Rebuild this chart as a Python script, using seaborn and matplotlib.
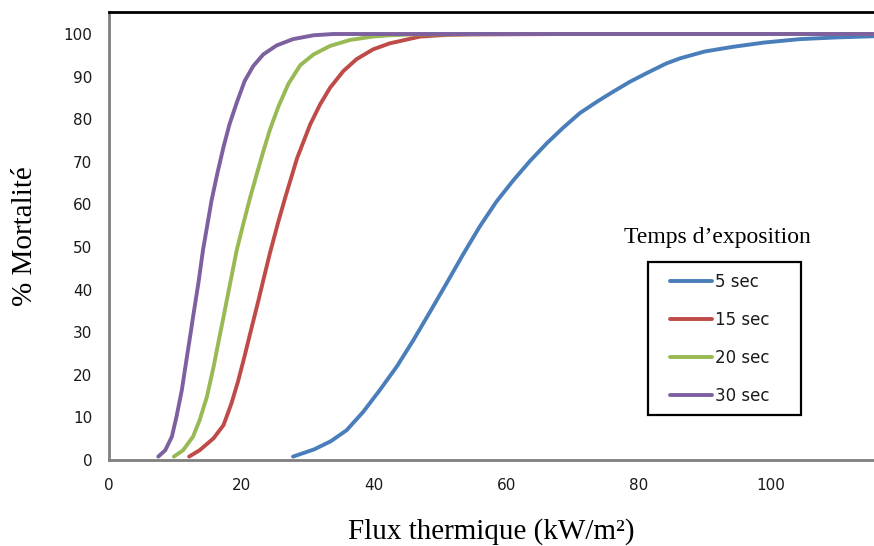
import numpy as np
import pandas as pd
import matplotlib
matplotlib.use("Agg")
import matplotlib.pyplot as plt
from matplotlib.patches import Rectangle
import seaborn as sns

# ---- data ----
labels = ["5 sec", "15 sec", "20 sec", "30 sec"]
colors = ["#4A7EBB", "#BE4B48", "#98B954", "#7D60A0"]

x_5 = [27.8, 31.0, 33.5, 35.9, 38.4, 40.9, 43.5, 46.0, 48.5, 51.0, 53.5, 56.0, 58.5, 61.1,
       63.6, 66.1, 68.6, 71.1, 73.7, 76.2, 78.7, 81.2, 84.2, 86.3, 90.0, 94.3, 99.0, 104.4, 110.0, 116.0]
y_5 = [0.8, 2.5, 4.4, 7.0, 11.3, 16.4, 22.0, 28.2, 34.8, 41.5, 48.3, 54.8, 60.6, 65.7,
       70.2, 74.3, 78.0, 81.4, 84.1, 86.5, 88.8, 90.8, 93.1, 94.3, 95.9, 97.0, 98.0, 98.8, 99.2, 99.5]

x_15 = [12.1, 13.7, 15.8, 17.3, 18.5, 19.5, 20.5, 21.5, 22.5, 23.4, 24.3, 25.5, 26.6, 28.4,
        30.4, 31.9, 33.4, 35.4, 37.4, 39.9, 42.4, 47.0, 51.0, 55.0, 70.0, 116.0]
y_15 = [0.8, 2.3, 5.1, 8.2, 13.3, 18.5, 24.5, 30.8, 37.0, 42.8, 48.5, 55.5, 61.5, 70.8,
        78.8, 83.5, 87.4, 91.3, 94.1, 96.4, 97.8, 99.4, 99.8, 99.9, 100.0, 100.0]

x_20 = [9.8, 11.2, 12.7, 13.7, 14.8, 15.8, 16.6, 17.3, 18.3, 19.3, 20.3, 21.3, 22.3, 23.3,
        24.3, 25.6, 27.1, 28.9, 30.9, 33.4, 36.4, 39.9, 42.4, 46.0, 60.0, 116.0]
y_20 = [0.8, 2.3, 5.5, 9.4, 14.9, 21.9, 28.2, 33.6, 41.5, 49.3, 55.5, 61.5, 67.0, 72.4,
        77.5, 83.0, 88.3, 92.7, 95.2, 97.2, 98.6, 99.4, 99.7, 99.9, 100.0, 100.0]

x_30 = [7.45, 8.5, 9.5, 10.2, 11.0, 11.7, 12.3, 12.7, 13.5, 14.2, 15.5, 16.4, 17.3, 18.2,
        19.3, 20.5, 21.8, 23.3, 25.3, 27.8, 30.9, 33.9, 50.0, 80.0, 116.0]
y_30 = [0.8, 2.3, 5.5, 10.2, 16.4, 23.5, 29.5, 33.6, 41.5, 49.3, 61.0, 67.5, 73.5, 78.8,
        83.9, 89.0, 92.5, 95.2, 97.3, 98.8, 99.7, 100.0, 100.0, 100.0, 100.0]

xs = [x_5, x_15, x_20, x_30]
ys = [y_5, y_15, y_20, y_30]

frames = [pd.DataFrame({"flux": x, "mort": y, "Temps": lab}) for x, y, lab in zip(xs, ys, labels)]
df = pd.concat(frames, ignore_index=True)

xticks = [0, 20, 40, 60, 80, 100]
yticks = list(range(0, 101, 10))

# ---- figure ----
sns.set_style("white")
plt.rcParams["font.family"] = ["DejaVu Sans"]

W, H = 874, 546
fig = plt.figure(figsize=(W / 100, H / 100), dpi=100)
ax = fig.add_axes([109 / W, 1 - 460 / H, 1 - 109 / W, (460 - 12) / H])

sns.lineplot(data=df, x="flux", y="mort", hue="Temps", hue_order=labels,
             palette=dict(zip(labels, colors)), linewidth=2.8, ax=ax,
             estimator=None, sort=True, legend=False, solid_capstyle="round",
             solid_joinstyle="round")

ax.set_xlim(0, (W - 109) / 6.62)
ax.set_ylim(0, (460 - 12) / 4.26)
ax.set_xticks(xticks)
ax.set_yticks(yticks)
ax.set_xticks(np.arange(0, 116, 4), minor=True)
ax.set_yticks(np.arange(0, 105, 5), minor=True)

for s in ["left", "bottom"]:
    ax.spines[s].set_color("#7f7f7f")
    ax.spines[s].set_linewidth(2.0)
ax.spines["top"].set_color("black")
ax.spines["top"].set_linewidth(2.0)
ax.spines["right"].set_visible(False)

ax.tick_params(axis="both", which="major", direction="inout", length=10, width=1.2,
               color="#7f7f7f", labelsize=11, labelcolor="#1a1a1a")
ax.tick_params(axis="both", which="minor", direction="inout", length=5, width=1.0,
               color="#7f7f7f")
ax.tick_params(axis="y", which="major", pad=7)
ax.tick_params(axis="x", which="major", pad=8)
ax.tick_params(top=False, right=False, which="both")

serif = ["Liberation Serif", "DejaVu Serif"]
ax.set_xlabel("Flux thermique (kW/m\u00b2)", family=serif, fontsize=21, color="black")
ax.set_ylabel("% Mortalité", family=serif, fontsize=21, color="black")
ax.xaxis.label.set_va("baseline")
ax.xaxis.set_label_coords(0.5, (460 - 539) / 448)
ax.yaxis.set_label_coords((38 - 109) / 765, 0.5)

# legend (frame drawn separately to match its padding)
handles = [plt.Line2D([], [], color=c, lw=2.8) for c in colors]
leg = ax.legend(handles, labels, loc="upper left",
                bbox_to_anchor=(670 / W, 1 - 273 / H),
                bbox_transform=fig.transFigure, borderaxespad=0, borderpad=0,
                frameon=False, handlelength=2.5, handletextpad=0.18,
                labelspacing=1.2, prop={"family": "DejaVu Sans", "size": 12})
for t in leg.get_texts():
    t.set_color("#1a1a1a")
fig.patches.append(Rectangle((648 / W, 1 - 415 / H), (801 - 648) / W, (415 - 262) / H,
                             transform=fig.transFigure, fill=False, edgecolor="black",
                             linewidth=1.6, zorder=5))

fig.text(717 / W, 1 - 237 / H, "Temps d\u2019exposition", family=serif,
         fontsize=17, ha="center", va="center", color="black")

fig.savefig("out.png", dpi=100)
